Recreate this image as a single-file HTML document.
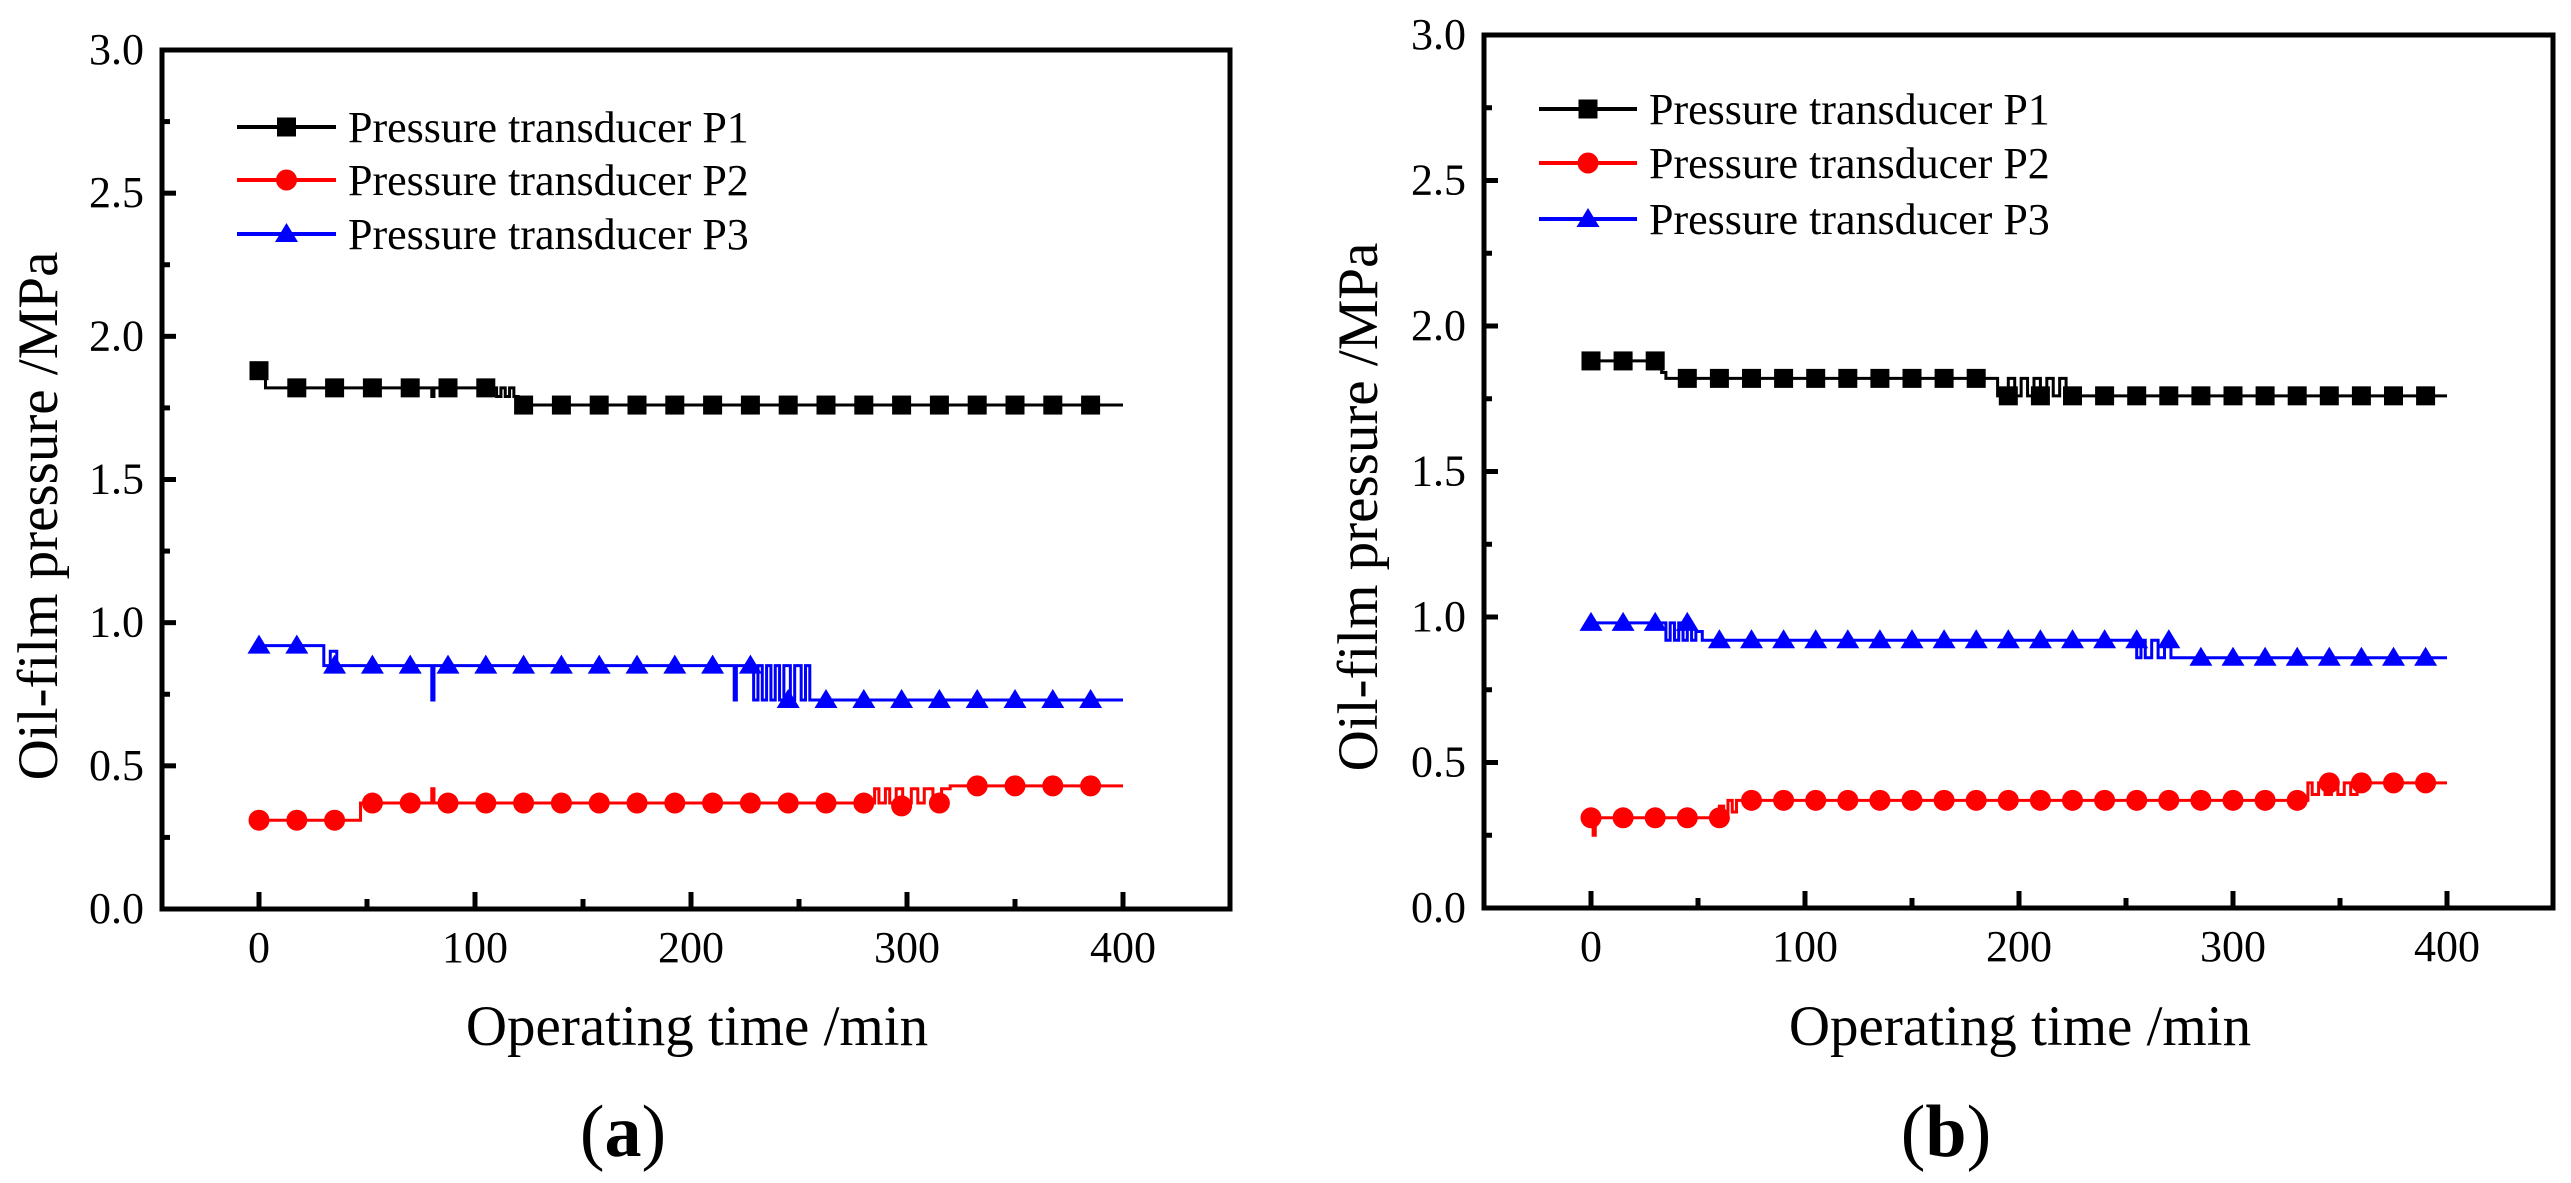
<!DOCTYPE html>
<html><head><meta charset="utf-8"><style>
html,body{margin:0;padding:0;background:#fff;}
svg{display:block;font-family:"Liberation Serif",serif;}
</style></head><body>
<svg id="fig" width="2571" height="1183" viewBox="0 0 2571 1183" xmlns="http://www.w3.org/2000/svg"></svg>
<script>
// ---- Data: panel (a) ----
const aP1StepT = [0, 3, 80, 81, 110, 112, 114, 116, 118, 120, 400];
const aP1StepV = [1.88, 1.82, 1.79, 1.82, 1.79, 1.82, 1.79, 1.82, 1.79, 1.76, 1.76];
const aP1MarkT = [0,17.5,35,52.5,70,87.5,105,122.5,140,157.5,175,192.5,210,227.5,245,262.5,280,297.5,315,332.5,350,367.5,385];
const aP1MarkV = [1.88,1.82,1.82,1.82,1.82,1.82,1.82,1.76,1.76,1.76,1.76,1.76,1.76,1.76,1.76,1.76,1.76,1.76,1.76,1.76,1.76,1.76,1.76];
const aP2StepT = [-2, 47, 80, 81, 285, 287, 290, 292, 295, 298, 302, 305, 308, 312, 316, 320, 400];
const aP2StepV = [0.31, 0.37, 0.42, 0.37, 0.42, 0.37, 0.42, 0.37, 0.42, 0.37, 0.42, 0.37, 0.42, 0.37, 0.42, 0.43, 0.43];
const aP2MarkT = [0,17.5,35,52.5,70,87.5,105,122.5,140,157.5,175,192.5,210,227.5,245,262.5,280,297.5,315,332.5,350,367.5,385];
const aP2MarkV = [0.31,0.31,0.31,0.37,0.37,0.37,0.37,0.37,0.37,0.37,0.37,0.37,0.37,0.37,0.37,0.37,0.37,0.36,0.37,0.43,0.43,0.43,0.43];
const aP3StepT = [-2, 30, 33, 36, 80, 81, 220, 221, 229, 231, 233, 235, 237, 239, 241, 243, 246, 248, 251, 253, 255, 400];
const aP3StepV = [0.92, 0.85, 0.90, 0.85, 0.73, 0.85, 0.73, 0.85, 0.73, 0.85, 0.73, 0.85, 0.73, 0.85, 0.73, 0.85, 0.73, 0.85, 0.73, 0.85, 0.73, 0.73];
const aP3MarkT = [0,17.5,35,52.5,70,87.5,105,122.5,140,157.5,175,192.5,210,227.5,245,262.5,280,297.5,315,332.5,350,367.5,385];
const aP3MarkV = [0.92,0.92,0.85,0.85,0.85,0.85,0.85,0.85,0.85,0.85,0.85,0.85,0.85,0.85,0.73,0.73,0.73,0.73,0.73,0.73,0.73,0.73,0.73];
// ---- Data: panel (b) ----
const bP1StepT = [0, 33, 35, 190, 195, 198, 201, 204, 207, 210, 213, 216, 219, 222, 400];
const bP1StepV = [1.88, 1.84, 1.82, 1.76, 1.82, 1.76, 1.82, 1.76, 1.82, 1.76, 1.82, 1.76, 1.82, 1.76, 1.76];
const bP1MarkT = [0,15,30,45,60,75,90,105,120,135,150,165,180,195,210,225,240,255,270,285,300,315,330,345,360,375,390];
const bP1MarkV = [1.88,1.88,1.88,1.82,1.82,1.82,1.82,1.82,1.82,1.82,1.82,1.82,1.82,1.76,1.76,1.76,1.76,1.76,1.76,1.76,1.76,1.76,1.76,1.76,1.76,1.76,1.76];
const bP2StepT = [0, 1, 2, 60, 62, 64, 66, 68, 335, 337, 340, 343, 346, 349, 352, 355, 358, 361, 400];
const bP2StepV = [0.31, 0.25, 0.31, 0.35, 0.31, 0.37, 0.33, 0.37, 0.43, 0.39, 0.43, 0.39, 0.43, 0.39, 0.43, 0.39, 0.43, 0.43, 0.43];
const bP2MarkT = [0,15,30,45,60,75,90,105,120,135,150,165,180,195,210,225,240,255,270,285,300,315,330,345,360,375,390];
const bP2MarkV = [0.31,0.31,0.31,0.31,0.31,0.37,0.37,0.37,0.37,0.37,0.37,0.37,0.37,0.37,0.37,0.37,0.37,0.37,0.37,0.37,0.37,0.37,0.37,0.43,0.43,0.43,0.43];
const bP3StepT = [-2, 35, 37, 39, 41, 43, 45, 47, 49, 52, 255, 257, 259, 262, 265, 268, 271, 275, 400];
const bP3StepV = [0.98, 0.92, 0.98, 0.92, 0.98, 0.92, 0.98, 0.92, 0.95, 0.92, 0.86, 0.92, 0.86, 0.92, 0.86, 0.92, 0.86, 0.86, 0.86];
const bP3MarkT = [0,15,30,45,60,75,90,105,120,135,150,165,180,195,210,225,240,255,270,285,300,315,330,345,360,375,390];
const bP3MarkV = [0.98,0.98,0.98,0.98,0.92,0.92,0.92,0.92,0.92,0.92,0.92,0.92,0.92,0.92,0.92,0.92,0.92,0.92,0.92,0.86,0.86,0.86,0.86,0.86,0.86,0.86,0.86];
// ---- Axis ticks ----
const yTicks = [0.0, 0.5, 1.0, 1.5, 2.0, 2.5, 3.0];
const yTickLabels = ["0.0","0.5","1.0","1.5","2.0","2.5","3.0"];
const yMinor = [0.25, 0.75, 1.25, 1.75, 2.25, 2.75];
const xTicks = [0, 100, 200, 300, 400];
const xTickLabels = ["0","100","200","300","400"];
const xMinor = [50, 150, 250, 350];
const seriesNames = ["Pressure transducer P1","Pressure transducer P2","Pressure transducer P3"];

const NS = "http://www.w3.org/2000/svg";
const svg = document.getElementById('fig');
function mk(tag, attrs, parent){
  const e = document.createElementNS(NS, tag);
  for (const k in attrs) e.setAttribute(k, attrs[k]);
  (parent||svg).appendChild(e);
  return e;
}
function marker(g, type, cx, cy, color){
  let m;
  if (type==='sq') m = mk('rect',{x:cx-9.5,y:cy-9.5,width:19,height:19,fill:color},g);
  else if (type==='ci') m = mk('circle',{cx:cx,cy:cy,r:10.5,fill:color},g);
  else m = mk('polygon',{points:`${cx},${cy-11} ${cx+11.5},${cy+8} ${cx-11.5},${cy+8}`,fill:color},g);
  return m;
}
function panel(P){
  const sx = v => P.x0px + (v - 0) * (P.x400px - P.x0px) / 400;
  const sy = v => P.bottom - v * (P.bottom - P.top) / 3;
  const g = mk('g',{});
  
  
  // series
  P.series.forEach((s, si) => {
    const sg = mk('g',{},g);
    
    
    let d = '';
    for (let i=0;i<s.t.length;i++){
      const x = sx(s.t[i]), y = sy(s.v[i]);
      if (i===0) d += `M${x},${y}`;
      else d += `H${x}V${y}`;
    }
    const line = mk('path',{d:d,fill:'none',stroke:s.color,'stroke-width':3},sg);
    
    
    for (let i=0;i<s.mt.length;i++){
      const m = marker(sg, s.type, sx(s.mt[i]), sy(s.mv[i]), s.color);
      
      
    }
  });
  // frame
  const fr = mk('rect',{x:P.left,y:P.top,width:P.right-P.left,height:P.bottom-P.top,fill:'none',stroke:'#000','stroke-width':5},g);
  
  
  // y ticks
  yTicks.forEach((v,i) => {
    const y = sy(v);
    if (v>0 && v<3) mk('line',{x1:P.left,x2:P.left+14,y1:y,y2:y,stroke:'#000','stroke-width':5},g);
    const t = mk('text',{x:P.left-18,y:y+14,'font-size':44,'text-anchor':'end',fill:'#000'},g);
    t.textContent = yTickLabels[i];
    
    
  });
  yMinor.forEach(v => { const y = sy(v); mk('line',{x1:P.left,x2:P.left+8,y1:y,y2:y,stroke:'#000','stroke-width':5},g); });
  xTicks.forEach((v,i) => {
    const x = sx(v);
    mk('line',{x1:x,x2:x,y1:P.bottom,y2:P.bottom-17,stroke:'#000','stroke-width':5},g);
    const t = mk('text',{x:x,y:P.bottom+53,'font-size':44,'text-anchor':'middle',fill:'#000'},g);
    t.textContent = xTickLabels[i];
    
    
  });
  xMinor.forEach(v => { const x = sx(v); mk('line',{x1:x,x2:x,y1:P.bottom,y2:P.bottom-10,stroke:'#000','stroke-width':5},g); });
  // axis titles
  const xt = mk('text',{x:P.xTitleX,y:1045,'font-size':57,'text-anchor':'middle',fill:'#000'},g);
  xt.textContent = 'Operating time /min';
  
  
  const yt = mk('text',{x:0,y:0,'font-size':57,'text-anchor':'middle',fill:'#000',transform:`translate(${P.yTitleX},${P.yTitleY}) rotate(-90)`},g);
  yt.textContent = 'Oil-film pressure /MPa';
  
  
  // panel label
  const pl = mk('text',{x:P.labelX,y:1156,'font-size':74,'text-anchor':'middle',fill:'#000'},g);
  pl.innerHTML = `(<tspan font-weight="bold">${P.letter}</tspan>)`;
  
  
  // legend
  const lg = mk('g',{},g);
  
  
  P.series.forEach((s, i) => {
    const y = P.legendY[i];
    const eg = mk('g',{},lg);
    
    
    mk('line',{x1:P.legX1,x2:P.legX2,y1:y,y2:y,stroke:s.color,'stroke-width':4},eg);
    marker(eg, s.type, (P.legX1+P.legX2)/2, y, s.color);
    const t = mk('text',{x:P.legX2+12,y:y+15,'font-size':44,fill:'#000'},eg);
    t.textContent = seriesNames[i];
  });
}
panel({name:'panel-a', letter:'a', left:162, right:1230, top:50, bottom:909, x0px:259, x400px:1123,
  xTitleX:697, yTitleX:57, yTitleY:516, labelX:623, legX1:237, legX2:336, legendY:[127,180,234],
  series:[
    {key:'p1',color:'#000000',type:'sq',t:aP1StepT,v:aP1StepV,mt:aP1MarkT,mv:aP1MarkV},
    {key:'p2',color:'#ff0000',type:'ci',t:aP2StepT,v:aP2StepV,mt:aP2MarkT,mv:aP2MarkV},
    {key:'p3',color:'#0000ff',type:'tr',t:aP3StepT,v:aP3StepV,mt:aP3MarkT,mv:aP3MarkV}]});
panel({name:'panel-b', letter:'b', left:1484, right:2553, top:35, bottom:908, x0px:1591, x400px:2447,
  xTitleX:2020, yTitleX:1377, yTitleY:507, labelX:1946, legX1:1539, legX2:1637, legendY:[109,163,219],
  series:[
    {key:'p1',color:'#000000',type:'sq',t:bP1StepT,v:bP1StepV,mt:bP1MarkT,mv:bP1MarkV},
    {key:'p2',color:'#ff0000',type:'ci',t:bP2StepT,v:bP2StepV,mt:bP2MarkT,mv:bP2MarkV},
    {key:'p3',color:'#0000ff',type:'tr',t:bP3StepT,v:bP3StepV,mt:bP3MarkT,mv:bP3MarkV}]});
</script>
</body></html>
